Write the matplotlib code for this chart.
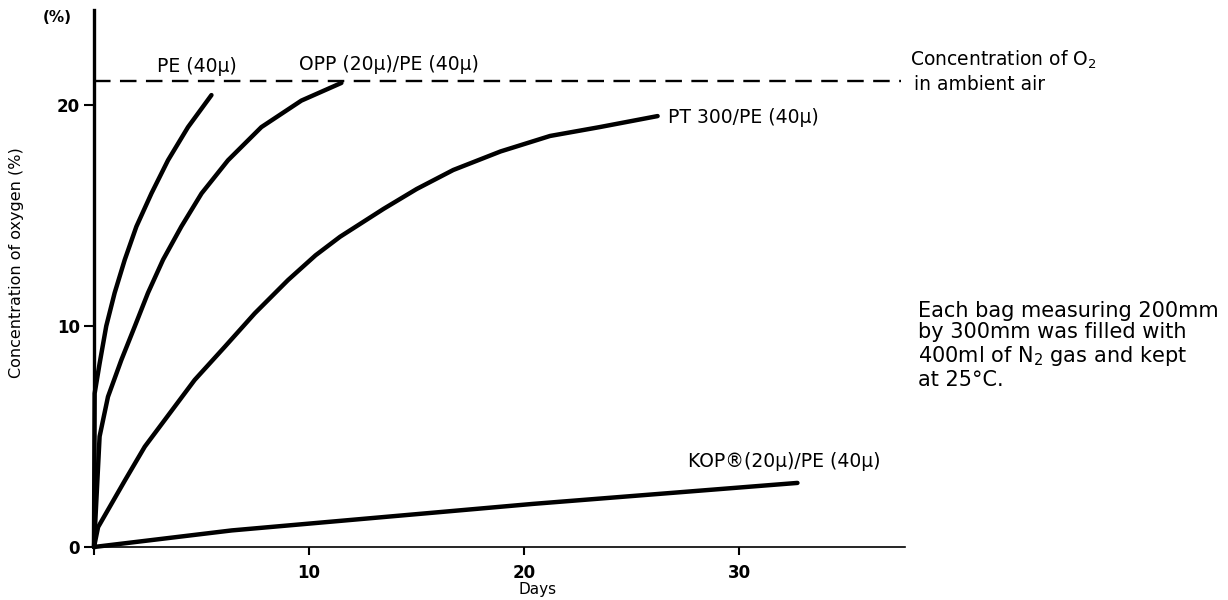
import matplotlib
matplotlib.use("Agg")
import matplotlib.pyplot as plt

# ---- data ----
pe_days = [0, 0.03, 0.26, 0.57, 0.96, 1.43, 1.97, 2.67, 3.44, 4.37, 5.46]
pe_vals = [0, 6.95, 8.3, 10.0, 11.5, 13.0, 14.5, 16.0, 17.5, 19.0, 20.45]

opp_days = [0, 0.26, 0.65, 1.27, 1.89, 2.51, 3.21, 4.06, 5.0, 6.23, 7.78, 9.64, 11.5]
opp_vals = [0, 5.0, 6.8, 8.46, 9.97, 11.5, 13.0, 14.5, 16.0, 17.5, 19.0, 20.2, 21.0]

pt_days = [0, 0.19, 1.43, 2.36, 3.52, 4.68, 6.08, 7.47, 9.02, 10.3, 11.44, 13.46,
           15.0, 16.7, 18.9, 21.2, 23.5, 26.2]
pt_vals = [0, 0.9, 3.0, 4.54, 6.05, 7.56, 9.06, 10.57, 12.08, 13.2, 14.04, 15.3,
           16.2, 17.06, 17.9, 18.6, 19.0, 19.5]

kop_days = [0, 6.4, 20.4, 32.7]
kop_vals = [0, 0.75, 1.95, 2.9]

air_days = [0, 37.5]
air_o2 = [21.1, 21.1]

y_ticks = [0, 10, 20]
x_ticks = [0, 10, 20, 30]
x_tick_labels = ["", "10", "20", "30"]

labels = {
    "pe": "PE (40\u03bc)",
    "opp": "OPP (20\u03bc)/PE (40\u03bc)",
    "pt": "PT 300/PE (40\u03bc)",
    "kop": "KOP\u00ae(20\u03bc)/PE (40\u03bc)",
}

plt.rcParams['font.family'] = ['DejaVu Sans']

fig = plt.figure(figsize=(12.28, 6.0), dpi=100)
ax = fig.add_axes([94 / 1228, 53 / 600, 811 / 1228, 537 / 600])
ax.set_xlim(0, 37.7)
ax.set_ylim(0, 24.3)

lw = 3.2
for xs, ys in [(pe_days, pe_vals), (opp_days, opp_vals), (pt_days, pt_vals), (kop_days, kop_vals)]:
    ax.plot(xs, ys, color="black", lw=lw, solid_capstyle="round", solid_joinstyle="round", clip_on=False)

dl, = ax.plot(air_days, air_o2, color="black", lw=1.7, clip_on=False)
dl.set_dashes([7, 4])

for s in ["top", "right"]:
    ax.spines[s].set_visible(False)
ax.spines["left"].set_linewidth(2.4)
ax.spines["bottom"].set_linewidth(1.2)

ax.set_yticks(y_ticks)
ax.set_yticklabels([str(v) for v in y_ticks], fontsize=12, fontweight="bold")
ax.set_xticks(x_ticks)
ax.set_xticklabels(x_tick_labels, fontsize=12, fontweight="bold")
ax.tick_params(axis="y", direction="out", length=7, width=1.5, pad=3)
ax.tick_params(axis="x", direction="out", length=6, width=1.5, pad=6)

ax.set_xlabel("Days", fontsize=11)
ax.set_ylabel("Concentration of oxygen (%)", fontsize=11.5)
ax.yaxis.set_label_coords(-0.086, 0.53)
ax.xaxis.set_label_coords(0.547, -0.065)

fig.text(57 / 1228, 1 - 18 / 600, "(%)", fontsize=11, fontweight="bold", ha="center", va="center")

fs = 13.5
ax.text(2.95, 21.75, labels["pe"], fontsize=fs, ha="left", va="center")
ax.text(9.55, 21.85, labels["opp"], fontsize=fs, ha="left", va="center")
ax.text(26.7, 19.45, labels["pt"], fontsize=fs, ha="left", va="center")
ax.text(27.6, 3.85, labels["kop"], fontsize=fs, ha="left", va="center")

ax.text(37.95, 22.05, "Concentration of O$_2$", fontsize=13.5, ha="left", va="center", clip_on=False)
ax.text(38.1, 20.95, "in ambient air", fontsize=13.5, ha="left", va="center", clip_on=False)

ax.text(38.3, 11.15,
        "Each bag measuring 200mm\nby 300mm was filled with\n400ml of N$_2$ gas and kept\nat 25\u00b0C.",
        fontsize=15, ha="left", va="top", linespacing=1.1, clip_on=False)

fig.savefig("out.png", dpi=100, facecolor="white")
